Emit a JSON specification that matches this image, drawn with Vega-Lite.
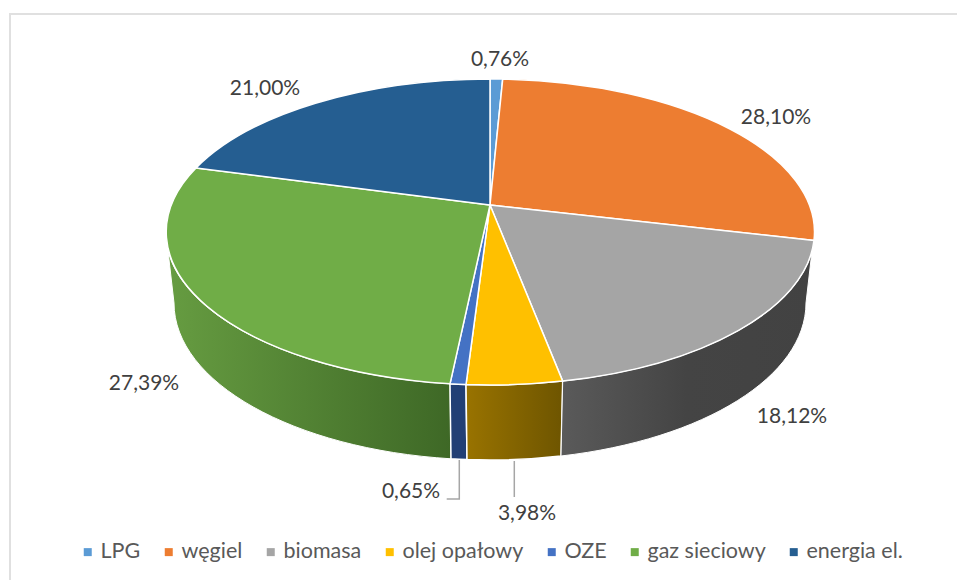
{
  "$schema": "https://vega.github.io/schema/vega-lite/v6.json",
  "width": 957,
  "height": 580,
  "padding": 0,
  "autosize": {"type": "none"},
  "background": "white",
  "config": {
    "view": {"stroke": null},
    "locale": {"number": {"decimal": ",", "thousands": " ", "grouping": [3], "currency": ["", " zł"]}}
  },
  "data": {"values": [
    {"kategoria": "LPG", "udzial": 0.0076},
    {"kategoria": "węgiel", "udzial": 0.281},
    {"kategoria": "biomasa", "udzial": 0.1812},
    {"kategoria": "olej opałowy", "udzial": 0.0398},
    {"kategoria": "OZE", "udzial": 0.0065},
    {"kategoria": "gaz sieciowy", "udzial": 0.2739},
    {"kategoria": "energia el.", "udzial": 0.21}
  ]},
  "layer": [
    {
      "mark": {"type": "square", "size": 0, "opacity": 1},
      "encoding": {
        "color": {
          "field": "kategoria", "type": "nominal",
          "scale": {
            "domain": ["LPG", "węgiel", "biomasa", "olej opałowy", "OZE", "gaz sieciowy", "energia el."],
            "range": ["#5b9bd5", "#ed7d31", "#a5a5a5", "#ffc000", "#4472c4", "#70ad47", "#255e91"]
          },
          "legend": {
            "title": null, "orient": "none", "legendX": 77, "legendY": 541, "direction": "horizontal", "columns": 7,
            "symbolType": "square", "symbolSize": 64, "symbolStrokeWidth": 0, "symbolOpacity": 1,
            "labelFont": "Lato", "labelFontSize": 21.5, "labelColor": "#595959", "labelLimit": 300, "labelOffset": 2, "columnPadding": 17
          }
        }
      }
    },
    {
      "transform": [{"filter": "datum.kategoria === 'LPG'"}],
      "mark": {"type": "point", "size": 4, "filled": false, "opacity": 1, "stroke": "#e0e0e0", "strokeWidth": 2,
        "shape": "M-468.5,300 L-468.5,-276 L490,-276"}
    },
    {
      "transform": [{"filter": "datum.kategoria === 'gaz sieciowy'"}],
      "mark": {"type": "point", "size": 4, "filled": true, "opacity": 1, "stroke": "white", "strokeWidth": 1,
        "fill": {"gradient": "linear", "x1": 0, "y1": 0, "x2": 1, "y2": 0, "stops": [{"offset": 0, "color": "#669c41"}, {"offset": 1, "color": "#3e6826"}]},
        "shape": "M-310.5,-39 A324.5,153 0 0 0 -28.5,93.8 L-27.5,168.8 A316,157 0 0 1 -304.5,13 Z"}
    },
    {
      "transform": [{"filter": "datum.kategoria === 'OZE'"}],
      "mark": {"type": "point", "size": 4, "filled": true, "opacity": 1, "stroke": "white", "strokeWidth": 1.5, "fill": "#223f75",
        "shape": "M-12.5,94.6 A324.5,153 0 0 1 -28.5,93.8 L-27.5,168.8 A316,157 0 0 0 -11.5,169.6 Z"}
    },
    {
      "transform": [{"filter": "datum.kategoria === 'olej opałowy'"}],
      "mark": {"type": "point", "size": 4, "filled": true, "opacity": 1, "stroke": "white", "strokeWidth": 1.5,
        "fill": {"gradient": "linear", "x1": 0, "y1": 0, "x2": 1, "y2": 0, "stops": [{"offset": 0, "color": "#997300"}, {"offset": 1, "color": "#6e5500"}]},
        "shape": "M84.2,91.1 A324.5,153 0 0 1 -12.5,94.6 L-11.5,169.6 A316,157 0 0 0 82.5,166 Z"}
    },
    {
      "transform": [{"filter": "datum.kategoria === 'biomasa'"}],
      "mark": {"type": "point", "size": 4, "filled": true, "opacity": 1, "stroke": "white", "strokeWidth": 1,
        "fill": {"gradient": "linear", "x1": 0, "y1": 0, "x2": 1, "y2": 0, "stops": [{"offset": 0, "color": "#5a5a5a"}, {"offset": 0.5, "color": "#444444"}, {"offset": 1, "color": "#424242"}]},
        "shape": "M333.5,-39 A324.5,153 0 0 1 84.2,91.1 L82.5,166 A316,157 0 0 0 327.5,13 Z"}
    },
    {
      "transform": [{"filter": "datum.kategoria === 'LPG'"}],
      "mark": {"type": "point", "size": 4, "filled": true, "opacity": 1, "stroke": "white", "strokeWidth": 1.5,
        "shape": "M11.5,-85 L11.5,-211 A324.5,153 0 0 1 24.2,-210.9 Z"},
      "encoding": {"color": {"field": "kategoria", "type": "nominal", "legend": null}}
    },
    {
      "transform": [{"filter": "datum.kategoria === 'węgiel'"}],
      "mark": {"type": "point", "size": 4, "filled": true, "opacity": 1, "stroke": "white", "strokeWidth": 1.5,
        "shape": "M11.5,-85 L24.2,-210.9 A324.5,153 0 0 1 335.5,-49.6 Z"},
      "encoding": {"color": {"field": "kategoria", "type": "nominal", "legend": null}}
    },
    {
      "transform": [{"filter": "datum.kategoria === 'biomasa'"}],
      "mark": {"type": "point", "size": 4, "filled": true, "opacity": 1, "stroke": "white", "strokeWidth": 1.5,
        "shape": "M11.5,-85 L335.5,-49.6 A324.5,153 0 0 1 84.2,91.1 Z"},
      "encoding": {"color": {"field": "kategoria", "type": "nominal", "legend": null}}
    },
    {
      "transform": [{"filter": "datum.kategoria === 'olej opałowy'"}],
      "mark": {"type": "point", "size": 4, "filled": true, "opacity": 1, "stroke": "white", "strokeWidth": 1.5,
        "shape": "M11.5,-85 L84.2,91.1 A324.5,153 0 0 1 -12.5,94.6 Z"},
      "encoding": {"color": {"field": "kategoria", "type": "nominal", "legend": null}}
    },
    {
      "transform": [{"filter": "datum.kategoria === 'OZE'"}],
      "mark": {"type": "point", "size": 4, "filled": true, "opacity": 1, "stroke": "white", "strokeWidth": 1.5,
        "shape": "M11.5,-85 L-12.5,94.6 A324.5,153 0 0 1 -28.5,93.8 Z"},
      "encoding": {"color": {"field": "kategoria", "type": "nominal", "legend": null}}
    },
    {
      "transform": [{"filter": "datum.kategoria === 'gaz sieciowy'"}],
      "mark": {"type": "point", "size": 4, "filled": true, "opacity": 1, "stroke": "white", "strokeWidth": 1.5,
        "shape": "M11.5,-85 L-28.5,93.8 A324.5,153 0 0 1 -282.5,-122 Z"},
      "encoding": {"color": {"field": "kategoria", "type": "nominal", "legend": null}}
    },
    {
      "transform": [{"filter": "datum.kategoria === 'energia el.'"}],
      "mark": {"type": "point", "size": 4, "filled": true, "opacity": 1, "stroke": "white", "strokeWidth": 1.5,
        "shape": "M11.5,-85 L-282.5,-122 A324.5,153 0 0 1 11.5,-211 Z"},
      "encoding": {"color": {"field": "kategoria", "type": "nominal", "legend": null}}
    },
    {
      "transform": [{"filter": "datum.kategoria === 'OZE'"}],
      "mark": {"type": "point", "size": 4, "filled": false, "opacity": 1, "stroke": "#a6a6a6", "strokeWidth": 1.5,
        "shape": "M-19.2,170 L-19.2,209 L-31.8,209"}
    },
    {
      "transform": [{"filter": "datum.kategoria === 'olej opałowy'"}],
      "mark": {"type": "point", "size": 4, "filled": false, "opacity": 1, "stroke": "#a6a6a6", "strokeWidth": 1.5,
        "shape": "M35.8,171 L35.8,207"}
    },
    {
      "mark": {
        "type": "text", "font": "Lato", "fontSize": 21, "color": "#404040", "align": "center", "baseline": "middle",
        "dx": {"expr": "{'LPG':21.5,'węgiel':297.5,'biomasa':313.5,'olej opałowy':48.5,'OZE':-67.5,'gaz sieciowy':-334.5,'energia el.':-213.5}[datum.kategoria]"},
        "dy": {"expr": "{'LPG':-230,'węgiel':-172,'biomasa':127,'olej opałowy':224,'OZE':202,'gaz sieciowy':94,'energia el.':-201}[datum.kategoria]"}
      },
      "encoding": {
        "text": {"field": "udzial", "type": "quantitative", "format": ".2%"}
      }
    }
  ]
}
